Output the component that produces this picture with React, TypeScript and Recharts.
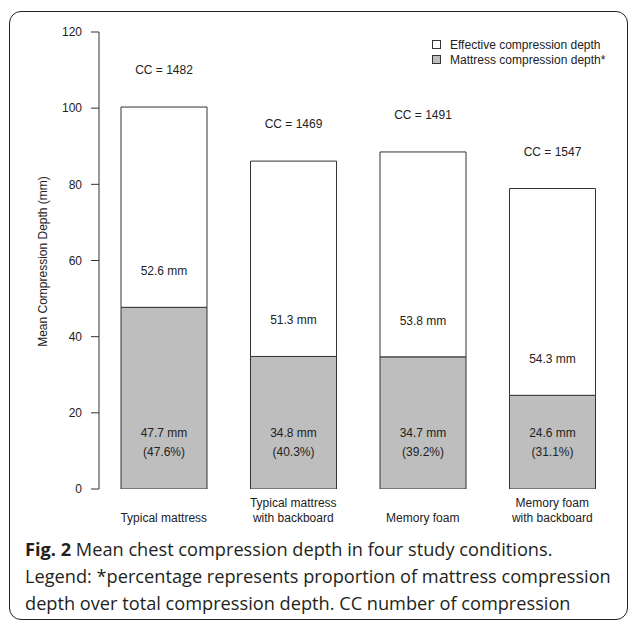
import React from 'react';
import { BarChart, Bar, XAxis, YAxis, LabelList, Legend } from 'recharts';

const categories = [
  'Typical mattress',
  'Typical mattress\nwith backboard',
  'Memory foam',
  'Memory foam\nwith backboard',
];
const mattressDepth = [47.7, 34.8, 34.7, 24.6];
const effectiveDepth = [52.6, 51.3, 53.8, 54.3];
const mattressPct = ['47.6%', '40.3%', '39.2%', '31.1%'];
const compressionCounts = [1482, 1469, 1491, 1547];
const yTicks = [0, 20, 40, 60, 80, 100, 120];
const legendItems = [
  { label: 'Effective compression depth', fill: '#ffffff' },
  { label: 'Mattress compression depth*', fill: '#bebebe' },
];
const captionLines = [
  'Mean chest compression depth in four study conditions.',
  'Legend: *percentage represents proportion of mattress compression',
  'depth over total compression depth. CC number of compression',
];

const data = categories.map((name, i) => ({
  name,
  mattress: mattressDepth[i],
  effective: effectiveDepth[i],
  pct: mattressPct[i],
  cc: compressionCounts[i],
}));

const FONT = '"Liberation Sans", Arial, sans-serif';
const TXT = '#222';
const GRAY = '#bebebe';
const STROKE = '#333';

const textProps = {
  fontFamily: FONT,
  fontSize: 12,
  fill: TXT,
  textAnchor: 'middle' as const,
  dominantBaseline: 'central' as const,
};

const renderMattressMm = (p: any) => {
  const cx = Number(p.x) + Number(p.width) / 2;
  const bottom = Number(p.y) + Number(p.height);
  return (
    <text x={cx} y={bottom - 56} {...textProps}>
      {`${p.value} mm`}
    </text>
  );
};

const renderPct = (p: any) => {
  const cx = Number(p.x) + Number(p.width) / 2;
  const bottom = Number(p.y) + Number(p.height);
  return (
    <text x={cx} y={bottom - 37} {...textProps}>
      {`(${p.value})`}
    </text>
  );
};

const renderEffective = (p: any) => {
  const cx = Number(p.x) + Number(p.width) / 2;
  const bottom = Number(p.y) + Number(p.height);
  return (
    <text x={cx} y={bottom - 36} {...textProps}>
      {`${p.value} mm`}
    </text>
  );
};

const renderCC = (p: any) => {
  const cx = Number(p.x) + Number(p.width) / 2;
  return (
    <text x={cx} y={Number(p.y) - 37} {...textProps}>
      {`CC = ${p.value}`}
    </text>
  );
};

const XTick = (p: any) => {
  const lines = String(p.payload.value).split('\n');
  const n = lines.length;
  return (
    <g>
      {lines.map((l, i) => (
        <text
          key={i}
          x={p.x}
          y={p.y + 25 - (n - 1 - i) * 15}
          fontFamily={FONT}
          fontSize={12}
          fill={TXT}
          textAnchor="middle"
        >
          {l}
        </text>
      ))}
    </g>
  );
};

const YLabel = (p: any) => {
  const vb = p.viewBox || {};
  const cy = Number(vb.y) + Number(vb.height) / 2 + 1;
  const cx = 43;
  return (
    <text
      x={cx}
      y={cy}
      transform={`rotate(-90, ${cx}, ${cy})`}
      {...textProps}
    >
      Mean Compression Depth (mm)
    </text>
  );
};

const renderLegend = () => (
  <svg width={200} height={34}>
    {legendItems.map((it, i) => (
      <g key={i}>
        <rect x={0.5} y={4.5 + i * 15} width={8} height={8} fill={it.fill} stroke={STROKE} strokeWidth={1} />
        <text x={18} y={9 + i * 15} fontFamily={FONT} fontSize={12} fill={TXT} dominantBaseline="central">
          {it.label}
        </text>
      </g>
    ))}
  </svg>
);

export default function App() {
  return (
    <div style={{ position: 'absolute', left: 0, top: 0, width: 630, height: 624, background: '#fff', overflow: 'hidden' }}>
      <div
        style={{
          position: 'absolute',
          left: 9,
          top: 11,
          width: 617,
          height: 607,
          border: '1.5px solid #222',
          borderRadius: 12,
        }}
      />
      <div style={{ position: 'absolute', left: 0, top: 0 }}>
        <BarChart
          width={630}
          height={530}
          data={data}
          margin={{ top: 32, right: 13, bottom: 0, left: 0 }}
          barSize={86}
        >
          <XAxis
            dataKey="name"
            axisLine={false}
            tickLine={false}
            height={41}
            interval={0}
            tick={<XTick />}
          />
          <YAxis
            width={99}
            domain={[0, 120]}
            ticks={yTicks}
            interval={0}
            allowDataOverflow
            stroke={STROKE}
            tickSize={8}
            tickMargin={9}
            tick={{ fontFamily: FONT, fontSize: 12, fill: TXT }}
            label={<YLabel />}
          />
          <Legend
            layout="vertical"
            align="center"
            verticalAlign="middle"
            content={renderLegend}
            wrapperStyle={{ position: 'absolute', left: 432, top: 36, width: 200, height: 34 }}
          />
          <Bar dataKey="mattress" stackId="a" fill={GRAY} stroke={STROKE} strokeWidth={1} isAnimationActive={false}>
            <LabelList dataKey="mattress" content={renderMattressMm} />
            <LabelList dataKey="pct" content={renderPct} />
          </Bar>
          <Bar dataKey="effective" stackId="a" fill="#ffffff" stroke={STROKE} strokeWidth={1} isAnimationActive={false}>
            <LabelList dataKey="effective" content={renderEffective} />
            <LabelList dataKey="cc" content={renderCC} />
          </Bar>
        </BarChart>
      </div>
      <div
        style={{
          position: 'absolute',
          left: 25,
          top: 536,
          fontFamily: '"Open Sans", sans-serif',
          fontSize: 18.2,
          lineHeight: '27px',
          color: '#231f20',
          whiteSpace: 'nowrap',
        }}
      >
        {captionLines.map((l, i) => (
          <div key={i}>
            {i === 0 ? <b style={{ fontWeight: 700 }}>Fig. 2 </b> : null}
            {l}
          </div>
        ))}
      </div>
    </div>
  );
}
